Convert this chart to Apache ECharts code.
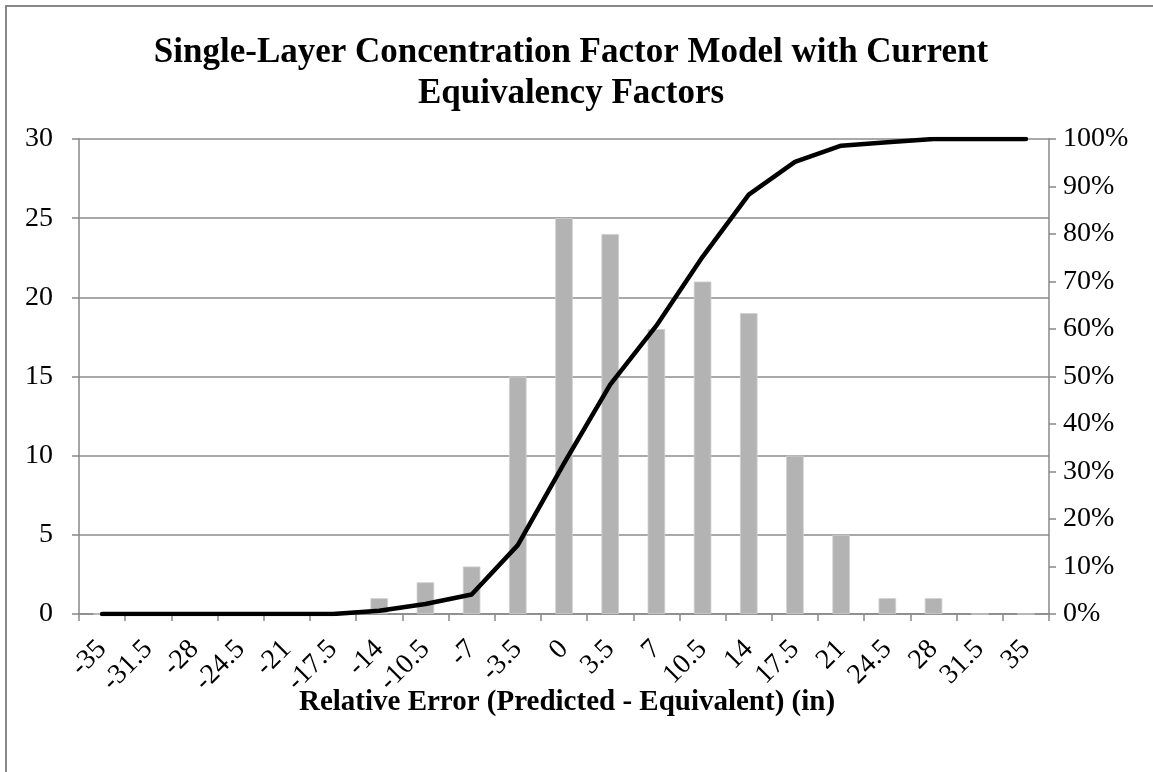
<!DOCTYPE html>
<html>
<head>
<meta charset="utf-8">
<script src="https://cdn.jsdelivr.net/npm/echarts@6/dist/echarts.min.js"></script>
<style>
html,body{margin:0;padding:0;background:#fff;}
#chart{width:1153px;height:772px;}
</style>
</head>
<body>
<div id="chart"></div>
<script>
const categories = ['-35','-31.5','-28','-24.5','-21','-17.5','-14','-10.5','-7','-3.5','0','3.5','7','10.5','14','17.5','21','24.5','28','31.5','35'];
const frequency = [0,0,0,0,0,0,1,2,3,15,25,24,18,21,19,10,5,1,1,0,0];
const cumulativePct = [0,0,0,0,0,0,0.7,2.1,4.1,14.5,31.7,48.3,60.7,75.2,88.3,95.2,98.6,99.3,100,100,100];
const leftAxisTicks = {min:0, max:30, interval:5};
const rightAxisTicks = {min:0, max:100, interval:10};
const titleLines = ['Single-Layer Concentration Factor Model with Current','Equivalency Factors'];
const xAxisTitle = 'Relative Error (Predicted - Equivalent) (in)';

const FONT = '"Liberation Serif", "Times New Roman", serif';
const chart = echarts.init(document.getElementById('chart'), null, {renderer:'canvas'});
chart.setOption({
  animation:false,
  backgroundColor:'#fff',
  graphic:[
    {type:'rect', shape:{x:6,y:6,width:2000,height:2000}, style:{fill:'none', stroke:'#888', lineWidth:2}, silent:true}
  ],
  title:[
    {text:titleLines.join('\n'), left:566, top:27, textAlign:'center',
     textStyle:{fontFamily:FONT, fontWeight:'bold', fontSize:35, lineHeight:41, color:'#000'}},
    {text:xAxisTitle, left:562, top:683, textAlign:'center',
     textStyle:{fontFamily:FONT, fontWeight:'bold', fontSize:29, color:'#000'}}
  ],
  grid:{left:79, right:104, top:139, bottom:158, containLabel:false},
  xAxis:{
    type:'category', data:categories, boundaryGap:true,
    axisLine:{lineStyle:{color:'#888', width:1.5}},
    axisTick:{show:true, inside:false, length:7, lineStyle:{color:'#888', width:1.5}},
    axisLabel:{rotate:45, margin:31, interval:0, fontFamily:FONT, fontSize:28, color:'#000'}
  },
  yAxis:[
    {type:'value', min:leftAxisTicks.min, max:leftAxisTicks.max, interval:leftAxisTicks.interval,
     axisLine:{show:true, lineStyle:{color:'#888', width:1.5}},
     axisTick:{show:true, inside:false, length:7, lineStyle:{color:'#888', width:1.5}},
     splitLine:{show:true, lineStyle:{color:'#8c8c8c', width:1.5}},
     axisLabel:{margin:26, fontFamily:FONT, fontSize:28, color:'#000'}},
    {type:'value', min:rightAxisTicks.min, max:rightAxisTicks.max, interval:rightAxisTicks.interval, position:'right',
     axisLine:{show:true, lineStyle:{color:'#888', width:1.5}},
     axisTick:{show:true, inside:false, length:7, lineStyle:{color:'#888', width:1.5}},
     splitLine:{show:false},
     axisLabel:{margin:14, formatter:'{value}%', fontFamily:FONT, fontSize:28, color:'#000'}}
  ],
  series:[
    {type:'bar', data:frequency, yAxisIndex:0, barWidth:'38%',
     itemStyle:{color:'#b3b3b3', borderColor:'#cfcfcf', borderWidth:0.8}},
    {type:'line', data:cumulativePct, yAxisIndex:1, symbol:'none', smooth:false,
     lineStyle:{color:'#000', width:4.5, cap:'round', join:'round'}}
  ]
});
</script>
</body>
</html>
